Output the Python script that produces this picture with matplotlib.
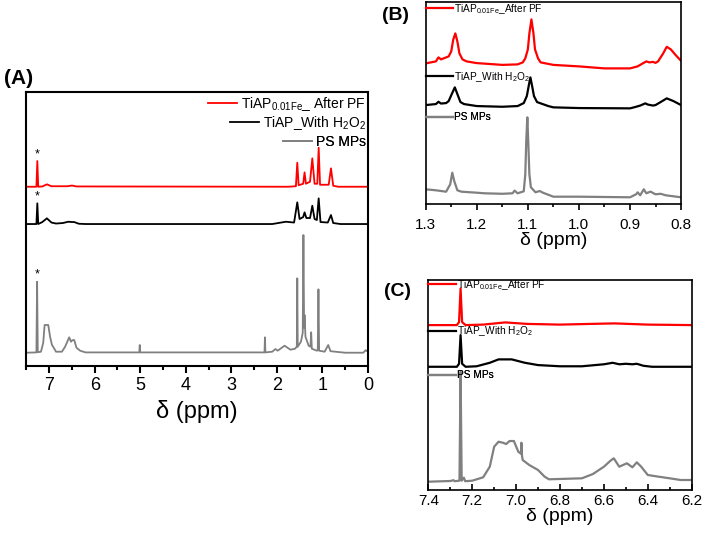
import matplotlib
matplotlib.use("Agg")
import matplotlib.pyplot as plt
from matplotlib.ticker import MultipleLocator, FormatStrFormatter

plt.rcParams["font.family"] = ["Liberation Sans", "DejaVu Sans"]
plt.rcParams["mathtext.fontset"] = "custom"
plt.rcParams["mathtext.rm"] = "Liberation Sans"
plt.rcParams["mathtext.it"] = "Liberation Sans:italic"

LBL_FE = r"TiAP$_{\mathregular{0.01Fe}}$_ After PF"
LBL_FE2 = r"TiAP$_{\mathregular{0.01Fe}}$_After PF"
LBL_H2O2 = r"TiAP_With H$_2$O$_2$"
LBL_PS = "PS MPs"
XLABEL = "\u03b4 (ppm)"

# ---- panel A: full spectra (ppm, intensity above own baseline) ----
a_red_ppm = [7.5, 7.28, 7.26, 7.24, 7.15, 7.05, 6.95, 6.6, 6.5, 6.4, 1.75, 1.58, 1.55, 1.52,
             1.42, 1.39, 1.36, 1.27, 1.22, 1.17, 1.11, 1.08, 1.05, 0.86, 0.81, 0.76, 0.65, 0.0]
a_red_int = [0, 0, 25.7, 0, 0.3, 2.4, 0.5, 0.5, 1.2, 0.3, 0, 0.5, 24, 1.5,
             3, 14.4, 3, 5, 28.4, 3, 3, 39, 2, 2, 18.4, 1, 0, 0]

a_blk_ppm = [7.5, 7.28, 7.26, 7.24, 7.15, 7.05, 6.95, 6.85, 6.7, 6.58, 6.5, 6.45, 6.35, 6.2,
             2.1, 1.8, 1.62, 1.55, 1.5, 1.42, 1.39, 1.35, 1.27, 1.22, 1.17, 1.12, 1.08, 1.04,
             0.88, 0.81, 0.76, 0.6, 0.0]
a_blk_int = [0, 0, 20.7, 0, 2, 5.7, 1.5, 0.5, 1, 2.3, 2, 2, 0.3, 0,
             0, 2.3, 1.5, 21.7, 5, 7, 11.7, 6, 6, 18.3, 5, 4, 25.7, 2,
             1.5, 9, 1, 0, 0]

a_gry_ppm = [7.5, 7.28, 7.265, 7.25, 7.18, 7.13, 7.10, 7.02, 6.98, 6.94, 6.9, 6.85, 6.72, 6.65,
             6.56, 6.52, 6.49, 6.45, 6.40, 6.32, 6.2, 5.02, 5.01, 5.0, 2.27, 2.26, 2.25, 2.1,
             2.03, 1.98, 1.83, 1.7, 1.6, 1.56, 1.55, 1.54, 1.47, 1.43, 1.415, 1.40, 1.39, 1.37,
             1.3, 1.26, 1.245, 1.23, 1.12, 1.1, 1.085, 1.07, 0.95, 0.87, 0.82, 0.5, 0.1, 0.05, 0.0]
a_gry_int = [0, 0.3, 71, 0.5, 1, 10, 27.7, 27.7, 16, 8, 5, 1, 1, 6,
             15.4, 11, 12.5, 12.7, 5, 2, 0.3, 0.3, 7.7, 0.3, 0.3, 15.4, 0.3, 1,
             3.7, 2, 7, 3, 4, 6, 74.4, 6, 11, 20, 117.7, 25, 37.7, 16,
             7, 6, 20.4, 4, 2, 2.5, 63.4, 2, 1, 7.7, 1.5, 0, 0, 2.5, 1]

# ---- panel B: 1.3 - 0.8 ppm ----
b_red_ppm = [1.30, 1.28, 1.275, 1.27, 1.265, 1.255, 1.25, 1.246, 1.242, 1.238, 1.234, 1.228,
             1.22, 1.20, 1.15, 1.12, 1.11, 1.105, 1.1, 1.097, 1.093, 1.089, 1.086, 1.08, 1.075,
             1.05, 1.0, 0.95, 0.9, 0.885, 0.875, 0.868, 0.862, 0.855, 0.85, 0.845, 0.835,
             0.828, 0.82, 0.81, 0.80]
b_red_int = [0, 2, 6, 4, 5, 7, 12, 24, 30, 22, 10, 4,
             2, 0.3, -1.5, -1, 1, 5, 14, 30, 44, 30, 14, 5, 1,
             -1.5, -3, -5, -5, -3, 0, 2, 1, 1.5, 0.5, 2, 10,
             16.6, 14, 8, 2.6]

b_blk_ppm = [1.30, 1.28, 1.275, 1.27, 1.26, 1.255, 1.249, 1.243, 1.238, 1.232, 1.225, 1.20,
             1.15, 1.12, 1.108, 1.102, 1.098, 1.095, 1.092, 1.088, 1.082, 1.06, 1.05, 1.0, 0.9,
             0.89, 0.88, 0.87, 0.865, 0.855, 0.85, 0.84, 0.828, 0.815, 0.80]
b_blk_int = [0, 1, 3.3, 1.5, 2, 4, 11, 17.7, 11, 3, 1, -1,
             -1.7, -1, 2, 9, 20, 27.7, 20, 9, 3, -1, -2.3, -3, -3.3,
             -2, -0.5, 1.7, 0.5, -0.5, 0, 3, 6.7, 4, 0]

b_gry_ppm = [1.30, 1.28, 1.26, 1.252, 1.248, 1.244, 1.238, 1.23, 1.20, 1.185, 1.15, 1.13,
             1.126, 1.12, 1.108, 1.105, 1.103, 1.101, 1.099, 1.097, 1.094, 1.085, 1.077, 1.07,
             1.05, 1.0, 0.95, 0.9, 0.888, 0.885, 0.88, 0.873, 0.868, 0.86, 0.85, 0.84, 0.83, 0.8]
b_gry_int = [0, -1, -2.4, 5, 16.6, 8, -1, -2.4, -3.4, -4, -4.5, -4,
             -1.3, -4, -2, 15, 50, 72, 45, 15, 2, -3, -1.7, -3.5,
             -7.4, -7.4, -7.7, -8, -5, -3, -6, 0, -4, -2.3, -5, -4.5, -6, -8]

# ---- panel C: 7.4 - 6.2 ppm ----
c_red_ppm = [7.40, 7.27, 7.26, 7.253, 7.246, 7.23, 7.15, 7.05, 6.95, 6.8, 6.6, 6.55, 6.4, 6.2]
c_red_int = [0, 0, 3, 36.7, 3, 0, 0.5, 2.7, 1.2, 0.5, 1.5, 1.7, 0.5, 0]

c_blk_ppm = [7.40, 7.27, 7.26, 7.253, 7.246, 7.23, 7.18, 7.12, 7.08, 7.02, 6.96, 6.9, 6.8,
             6.7, 6.6, 6.56, 6.53, 6.5, 6.47, 6.45, 6.42, 6.38, 6.2]
c_blk_int = [0, 0, 3, 31.7, 3, 0, 0.5, 4, 7.4, 7.4, 4, 1.7, 0.5,
             0.5, 2.5, 4, 2.5, 3, 2.5, 3, 1, 0, 0]

c_gry_ppm = [7.40, 7.30, 7.285, 7.28, 7.258, 7.253, 7.248, 7.238, 7.232, 7.2, 7.15, 7.12,
             7.10, 7.08, 7.06, 7.045, 7.03, 7.01, 6.99, 6.978, 6.976, 6.973, 6.97, 6.94,
             6.9, 6.87, 6.85, 6.7, 6.65, 6.6, 6.57, 6.555, 6.53, 6.51, 6.495, 6.47, 6.45,
             6.43, 6.4, 6.35, 6.3, 6.25, 6.2]
c_gry_int = [0, 0.7, 1.5, 0.5, 1, 110, 1, 4, 0.5, 1, 4.4, 15,
             35, 40, 39, 37.7, 40.7, 40.7, 30, 28, 39, 26, 21.7, 16.7,
             11.7, 5, 2.4, 3.4, 7.7, 15, 21, 23.4, 15, 17, 18.4, 14.4, 19.4,
             15, 6.7, 5, 3.4, 1.7, 1.7]

RED, BLK, GRY = "#ff0000", "#000000", "#808080"

fig = plt.figure(figsize=(7.04, 5.34), dpi=100)


def style_axis(ax, lo, hi, major, minor, fmt, lsize, xsize, lw, tlen, tdir, tpad, lpad):
    ax.set_xlim(lo, hi)
    ax.xaxis.set_major_locator(MultipleLocator(major))
    ax.xaxis.set_minor_locator(MultipleLocator(minor))
    ax.xaxis.set_major_formatter(FormatStrFormatter(fmt))
    ax.tick_params(axis="x", which="major", direction=tdir, length=tlen, width=lw,
                   labelsize=lsize, pad=tpad)
    ax.tick_params(axis="x", which="minor", direction=tdir, length=tlen * 0.6, width=lw)
    ax.set_yticks([])
    for s in ax.spines.values():
        s.set_linewidth(lw)
    ax.set_xlabel(XLABEL, fontsize=xsize, labelpad=lpad)


def add_tag(ax, x, y, text, handle, size, loc="upper left", hl=2.7, pad=0.1):
    lg = ax.legend([handle], [text], loc=loc, bbox_to_anchor=(x, y), frameon=False,
                   fontsize=size, handlelength=hl, handletextpad=pad, borderpad=0, borderaxespad=0)
    ax.add_artist(lg)


# ---------------- (A) ----------------
axA = fig.add_axes([0.0375, 0.3146, 0.485, 0.513])
offA = {"red": 179.3, "blk": 142.0, "gry": 13.3}
lr, = axA.plot(a_red_ppm, [v + offA["red"] for v in a_red_int], color=RED, lw=1.3)
lb, = axA.plot(a_blk_ppm, [v + offA["blk"] for v in a_blk_int], color=BLK, lw=1.3)
lg_, = axA.plot(a_gry_ppm, [v + offA["gry"] for v in a_gry_int], color=GRY, lw=1.3)
axA.set_ylim(0, 274)
style_axis(axA, 7.5, 0, 1, 0.5, "%d", 13, 17, 1.5, 5, "out", 3, 4)
# asterisks over the solvent peak
for ppm, vals, off in [(a_red_ppm, a_red_int, offA["red"]), (a_blk_ppm, a_blk_int, offA["blk"]),
                       (a_gry_ppm, a_gry_int, offA["gry"])]:
    i = max(range(3), key=lambda k: vals[k])
    axA.text(ppm[i], vals[i] + off + 1, "*", ha="center", va="bottom", fontsize=9)
# right-aligned legend rows
add_tag(axA, 0.995, 0.99, LBL_FE, lr, 10, loc="upper right", hl=2.1, pad=0.3)
add_tag(axA, 0.995, 0.92, LBL_H2O2, lb, 10, loc="upper right", hl=2.1, pad=0.3)
add_tag(axA, 0.995, 0.845, LBL_PS, lg_, 10, loc="upper right", hl=2.1, pad=0.3)
fig.text(0.006, 0.871, "(A)", fontsize=15, fontweight="bold", va="top")

# ---------------- (B) ----------------
axB = fig.add_axes([0.6047, 0.618, 0.3627, 0.378])
offB = {"red": 140.7, "blk": 99.0, "gry": 14.7}
br, = axB.plot(b_red_ppm, [v + offB["red"] for v in b_red_int], color=RED, lw=1.6)
bb, = axB.plot(b_blk_ppm, [v + offB["blk"] for v in b_blk_int], color=BLK, lw=1.6)
bg, = axB.plot(b_gry_ppm, [v + offB["gry"] for v in b_gry_int], color=GRY, lw=1.6)
axB.set_ylim(0, 202)
style_axis(axB, 1.3, 0.8, 0.1, 0.05, "%.1f", 11, 14, 1.2, 4, "out", 6, 0)
add_tag(axB, 0.0, 1.0, LBL_FE2, br, 7.3)
add_tag(axB, 0.0, 0.665, LBL_H2O2, bb, 7.3)
add_tag(axB, 0.0, 0.455, LBL_PS, bg, 7.3)
fig.text(0.543, 0.986, "(B)", fontsize=14, fontweight="bold", va="top")

# ---------------- (C) ----------------
axC = fig.add_axes([0.6084, 0.0824, 0.3741, 0.393])
offC = {"red": 165.0, "blk": 123.3, "gry": 8.3}
cr, = axC.plot(c_red_ppm, [v + offC["red"] for v in c_red_int], color=RED, lw=1.6)
cb, = axC.plot(c_blk_ppm, [v + offC["blk"] for v in c_blk_int], color=BLK, lw=1.6)
cg, = axC.plot(c_gry_ppm, [v + offC["gry"] for v in c_gry_int], color=GRY, lw=1.6)
axC.set_ylim(0, 210)
style_axis(axC, 7.4, 6.2, 0.2, 0.1, "%.1f", 11, 14, 1.2, 4, "in", 3, 0)
add_tag(axC, 0.0, 1.01, LBL_FE2, cr, 7.3)
add_tag(axC, 0.0, 0.79, LBL_H2O2, cb, 7.3)
add_tag(axC, 0.0, 0.57, LBL_PS, cg, 7.3)
fig.text(0.545, 0.47, "(C)", fontsize=14, fontweight="bold", va="top")

fig.savefig("out.png", dpi=100)
